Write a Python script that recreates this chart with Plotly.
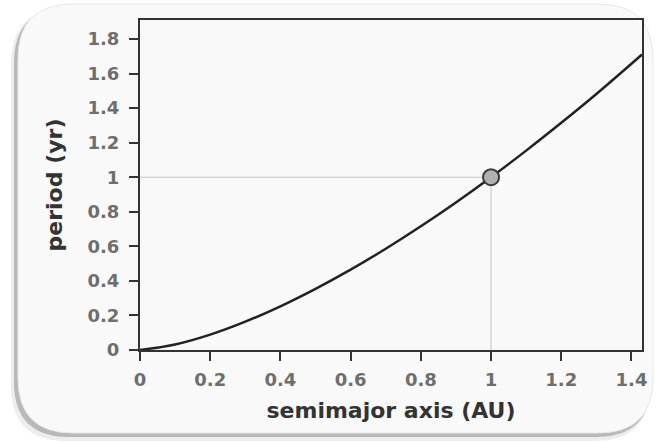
import plotly.graph_objects as go

# Data
semimajor_axis = [0, 0.1, 0.2, 0.3, 0.4, 0.5, 0.6, 0.7, 0.8, 0.9, 1.0, 1.1, 1.2, 1.3, 1.4, 1.43]
period = [0, 0.032, 0.089, 0.164, 0.253, 0.354, 0.465, 0.586, 0.716, 0.854, 1.0, 1.154, 1.315, 1.482, 1.657, 1.71]
earth_a = [1.0]
earth_p = [1.0]
x_ticks = [0, 0.2, 0.4, 0.6, 0.8, 1.0, 1.2, 1.4]
x_tick_text = ["0", "0.2", "0.4", "0.6", "0.8", "1", "1.2", "1.4"]
y_ticks = [0, 0.2, 0.4, 0.6, 0.8, 1.0, 1.2, 1.4, 1.6, 1.8]
y_tick_text = ["0", "0.2", "0.4", "0.6", "0.8", "1", "1.2", "1.4", "1.6", "1.8"]

W, H = 658, 442
L, R, T, B = 140, 642, 20, 350

def px(x):
    return (x - L) / (R - L)

def py(y):
    return (B - y) / (B - T)

def rrect(x0, y0, x1, y1, r):
    pts = [
        f"M {px(x0 + r)},{py(y0)}",
        f"L {px(x1 - r)},{py(y0)}",
        f"Q {px(x1)},{py(y0)} {px(x1)},{py(y0 + r)}",
        f"L {px(x1)},{py(y1 - r)}",
        f"Q {px(x1)},{py(y1)} {px(x1 - r)},{py(y1)}",
        f"L {px(x0 + r)},{py(y1)}",
        f"Q {px(x0)},{py(y1)} {px(x0)},{py(y1 - r)}",
        f"L {px(x0)},{py(y0 + r)}",
        f"Q {px(x0)},{py(y0)} {px(x0 + r)},{py(y0)}",
        "Z",
    ]
    return " ".join(pts)

fig = go.Figure()

fig.add_trace(go.Scatter(
    x=semimajor_axis, y=period, mode="lines",
    line=dict(color="#222222", width=2.5, shape="spline"),
    hoverinfo="skip", showlegend=False,
))
fig.add_trace(go.Scatter(
    x=earth_a, y=earth_p, mode="markers",
    marker=dict(size=16, color="#b0b0b0", line=dict(color="#3a3a3a", width=2)),
    showlegend=False,
))

shapes = []
# shadow layers
shapes.append(dict(type="path", xref="paper", yref="paper", layer="below",
                   path=rrect(11, 9, 650, 441, 55),
                   fillcolor="rgba(0,0,0,0.07)", line=dict(width=0)))
shapes.append(dict(type="path", xref="paper", yref="paper", layer="below",
                   path=rrect(14, 8, 651, 437, 55),
                   fillcolor="rgba(0,0,0,0.22)", line=dict(width=0)))
# frame
shapes.append(dict(type="path", xref="paper", yref="paper", layer="below",
                   path=rrect(18, 4, 653, 433, 55),
                   fillcolor="#f9f9f9", line=dict(color="#e8e8e8", width=1)))
# guide lines
shapes.append(dict(type="line", xref="x", yref="y", layer="below",
                   x0=0, y0=earth_p[0], x1=earth_a[0], y1=earth_p[0],
                   line=dict(color="#c4c4c4", width=1)))
shapes.append(dict(type="line", xref="x", yref="y", layer="below",
                   x0=earth_a[0], y0=0, x1=earth_a[0], y1=earth_p[0],
                   line=dict(color="#c4c4c4", width=1)))

tickfont = dict(family="DejaVu Sans", size=18, color="#6e6e6e", weight="bold")
titlefont = dict(family="DejaVu Sans", size=22, color="#333333", weight="bold")

fig.update_layout(
    width=W, height=H,
    margin=dict(l=L, r=W - R, t=T, b=H - B),
    paper_bgcolor="white",
    plot_bgcolor="rgba(0,0,0,0)",
    shapes=shapes,
    xaxis=dict(
        range=[0, 1.43], tickvals=x_ticks, ticktext=x_tick_text,
        ticks="outside", ticklen=9, tickwidth=2, tickcolor="#333333",
        showline=True, linecolor="#333333", linewidth=2, mirror=True,
        showgrid=False, zeroline=False, tickfont=tickfont, ticklabelstandoff=3,
        title=dict(text="semimajor axis (AU)", font=titlefont, standoff=14),
    ),
    yaxis=dict(
        range=[0, 1.91], tickvals=y_ticks, ticktext=y_tick_text,
        ticks="outside", ticklen=9, tickwidth=2, tickcolor="#333333",
        showline=True, linecolor="#333333", linewidth=2, mirror=True,
        showgrid=False, zeroline=False, tickfont=tickfont, ticklabelstandoff=6,
        title=dict(text="period (yr)", font=titlefont, standoff=19),
    ),
)

fig.write_html("out.html", config={"displayModeBar": False},
               post_script="document.body.style.margin='0px';")
